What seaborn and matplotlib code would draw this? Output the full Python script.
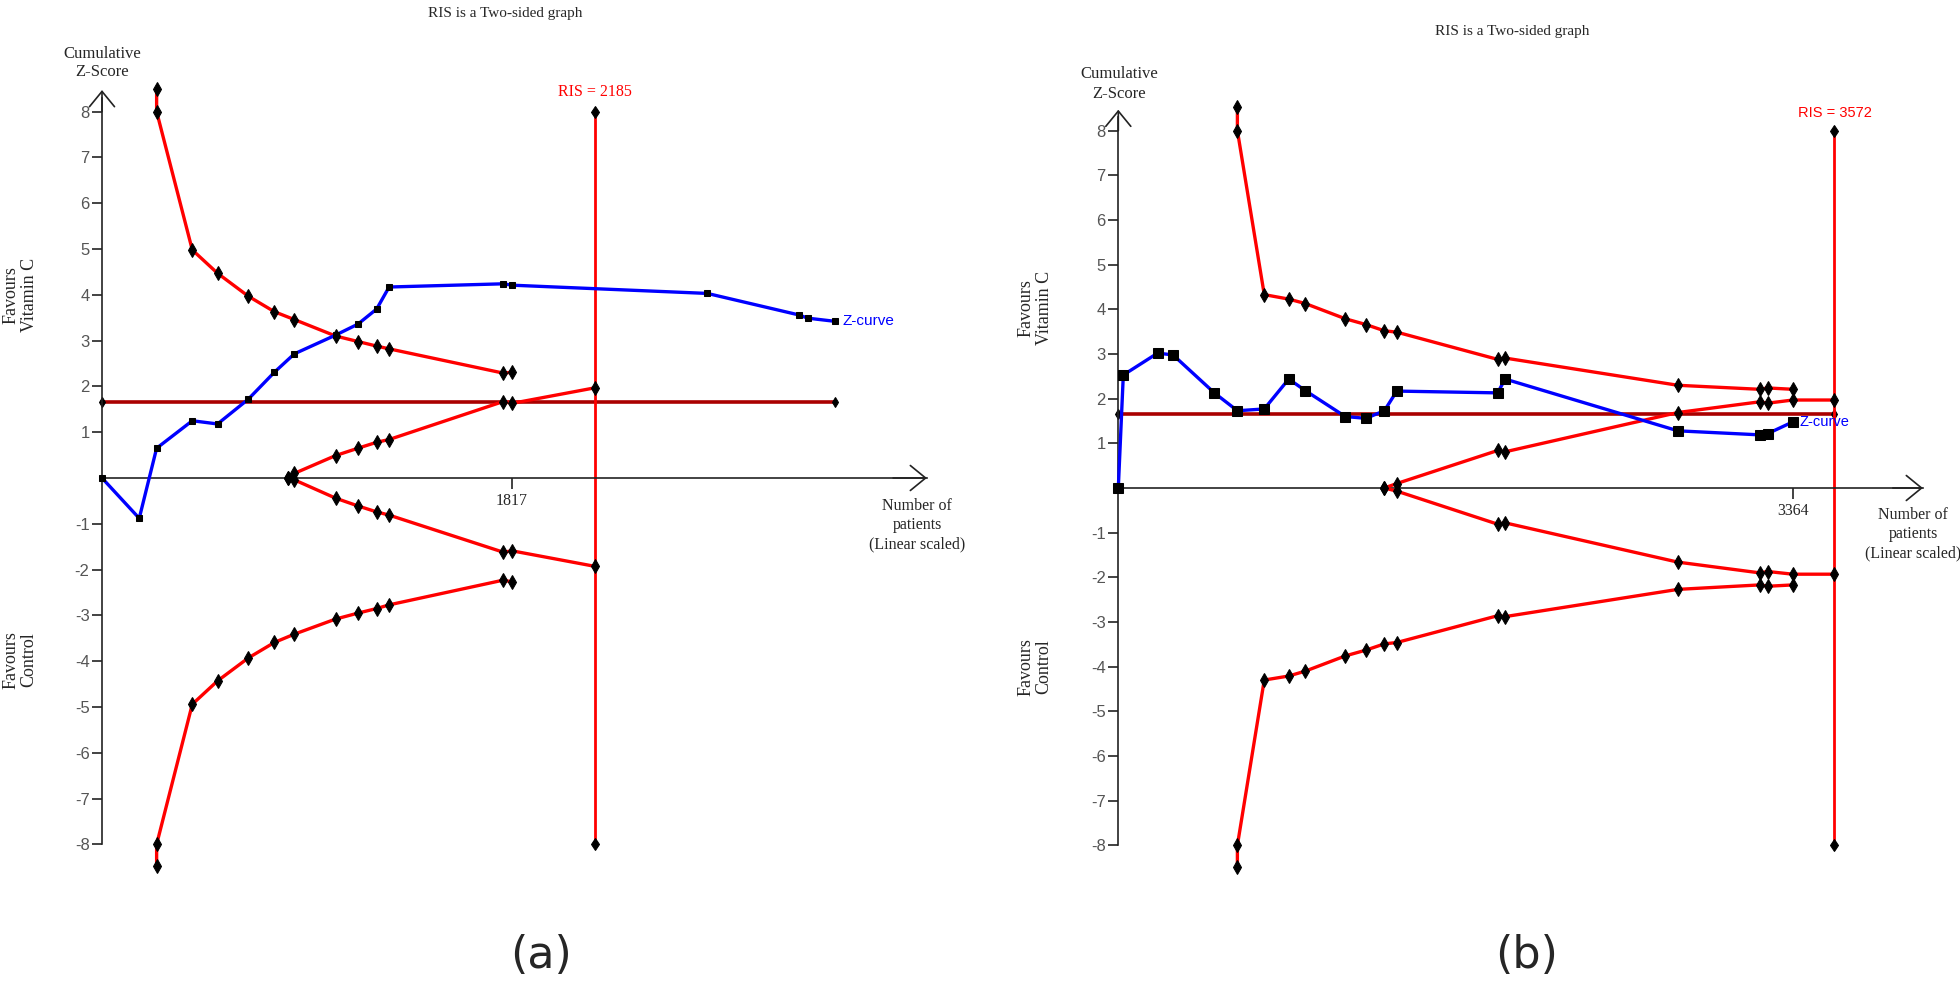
"""
Trial sequential analysis plots (a) and (b): cumulative Z-curve vs boundaries
"""

import seaborn as sns
import matplotlib.pyplot as plt

# ---- panel (a) ----
a_z_n = [0, 165, 242, 400, 512, 648, 764, 852, 1035, 1134, 1217, 1272, 1778, 1817, 2682, 3088, 3127, 3249]
a_z = [0, -0.88, 0.65, 1.25, 1.18, 1.72, 2.31, 2.71, 3.12, 3.36, 3.69, 4.17, 4.24, 4.21, 4.03, 3.56, 3.49, 3.42]
a_bound_n = [242, 242, 400, 512, 648, 764, 852, 1035, 1134, 1217, 1272, 1778, 1817]
a_upper = [8.5, 8.0, 4.98, 4.47, 3.97, 3.63, 3.46, 3.10, 2.98, 2.88, 2.82, 2.29, 2.31]
a_lower = [-8.47, -8.0, -4.94, -4.43, -3.93, -3.59, -3.41, -3.08, -2.95, -2.85, -2.77, -2.23, -2.27]
a_futil_n = [826, 852, 1035, 1134, 1217, 1272, 1778, 1817, 2185]
a_futil_up = [0, 0.10, 0.49, 0.65, 0.78, 0.84, 1.67, 1.63, 1.97]
a_futil_lo = [0, -0.04, -0.44, -0.61, -0.74, -0.81, -1.62, -1.59, -1.93]
a_ris = 2185
a_total = 1817
a_conv_end = 3249

# ---- panel (b) ----
b_z_n = [0, 25, 196, 273, 479, 594, 728, 850, 933, 1132, 1235, 1327, 1389, 1892, 1929, 2791, 3199, 3240, 3364]
b_z = [0, 2.53, 3.02, 2.98, 2.13, 1.73, 1.77, 2.44, 2.18, 1.60, 1.56, 1.73, 2.17, 2.13, 2.44, 1.28, 1.19, 1.22, 1.48]
b_bound_n = [594, 594, 728, 850, 933, 1132, 1235, 1327, 1389, 1892, 1929, 2791, 3199, 3240, 3364]
b_upper = [8.52, 8.0, 4.33, 4.23, 4.13, 3.79, 3.66, 3.52, 3.49, 2.88, 2.91, 2.30, 2.21, 2.24, 2.21]
b_lower = [-8.48, -8.0, -4.30, -4.21, -4.10, -3.76, -3.63, -3.49, -3.46, -2.86, -2.88, -2.27, -2.17, -2.20, -2.17]
b_futil_n = [1327, 1389, 1892, 1929, 2791, 3199, 3240, 3364, 3572]
b_futil_up = [0, 0.10, 0.84, 0.81, 1.69, 1.93, 1.90, 1.97, 1.97]
b_futil_lo = [0, -0.07, -0.81, -0.78, -1.66, -1.90, -1.87, -1.93, -1.93]
b_ris = 3572
b_total = 3364
b_conv_end = 3572

conv_z = 1.65
ris_z = [8, -8]
y_ticks = [-8, -7, -6, -5, -4, -3, -2, -1, 1, 2, 3, 4, 5, 6, 7, 8]

W, H = 1960, 983
SERIF = ["Liberation Serif", "DejaVu Serif"]
SANS = ["Liberation Sans", "DejaVu Sans"]

sns.set_style("white")
plt.rcParams["font.family"] = SANS
plt.rcParams["axes.unicode_minus"] = False

fig = plt.figure(figsize=(W / 100, H / 100), dpi=100)


def ftext(x, y, s, **kw):
    fig.text(x / W, 1 - y / H, s, **kw)


def make_axes(box, origin, px_n, px_z):
    # box = (left, top, right, bottom) in pixels, origin = pixel of (0, 0)
    l, t, r, b = box
    ax = fig.add_axes([l / W, 1 - b / H, (r - l) / W, (b - t) / H])
    ax.set_xlim((l - origin[0]) / px_n, (r - origin[0]) / px_n)
    ax.set_ylim((origin[1] - b) / px_z, (origin[1] - t) / px_z)
    return ax


def seg(ax, x, y, color, lw, marker, ms, z=2):
    sns.lineplot(x=x, y=y, ax=ax, estimator=None, sort=False, color=color, lw=lw,
                 marker=marker, markersize=ms, markerfacecolor="k", markeredgecolor="k",
                 zorder=z, legend=False)


def draw_panel(ax, z_n, z, bound_n, upper, lower, futil_n, futil_up, futil_lo,
               ris, total, conv_end, arrow_n, sq, ris_font, ris_size, zc_size):
    ax.set_facecolor("none")
    for s in ["top", "right"]:
        ax.spines[s].set_visible(False)
    ax.spines["left"].set_position(("data", 0))
    ax.spines["bottom"].set_position(("data", 0))
    ax.spines["left"].set_bounds(-8, 8.3)
    ax.spines["bottom"].set_bounds(0, arrow_n)
    for s in ["left", "bottom"]:
        ax.spines[s].set_color("#222222")
        ax.spines[s].set_linewidth(1.2)
    arr = dict(arrowstyle="->,head_length=0.55,head_width=0.45", color="#222222", lw=1.2,
               shrinkA=0, shrinkB=0, mutation_scale=20)
    ax.annotate("", xy=(0, 8.47), xytext=(0, 8.0), arrowprops=arr)
    ax.annotate("", xy=(arrow_n, 0), xytext=(arrow_n - 150, 0), arrowprops=arr)

    ax.set_yticks(y_ticks)
    ax.set_yticklabels([str(v) for v in y_ticks])
    ax.tick_params(axis="y", direction="out", length=7, width=1.2, color="#222222",
                   labelcolor="#555555", labelsize=12, pad=2, left=True)
    ax.set_xticks([total])
    ax.set_xticklabels([str(total)], family=SERIF, fontsize=11.5)
    ax.tick_params(axis="x", direction="out", length=8, width=1.2, color="#222222",
                   pad=3, bottom=True)
    ax.set_xlabel("")
    ax.set_ylabel("")

    # conventional boundary and RIS
    seg(ax, [0, conv_end], [conv_z, conv_z], "#aa0000", 2.6, "d", 5, z=2)
    seg(ax, [ris, ris], ris_z, "#ff0000", 2.0, "d", 6, z=2)
    # monitoring and futility boundaries
    seg(ax, bound_n, upper, "#ff0000", 2.4, "d", 7, z=3)
    seg(ax, bound_n, lower, "#ff0000", 2.4, "d", 7, z=3)
    seg(ax, futil_n, futil_up, "#ff0000", 2.4, "d", 7, z=3)
    seg(ax, futil_n, futil_lo, "#ff0000", 2.4, "d", 7, z=3)
    # Z-curve
    seg(ax, z_n, z, "#0000ff", 2.4, "s", sq, z=4)

    ax.annotate("Z-curve", xy=(z_n[-1], z[-1]), xytext=(5, 0), textcoords="offset points",
                color="#0000ff", fontsize=zc_size, va="center", ha="left")
    ax.annotate(f"RIS = {ris}", xy=(ris, ris_z[0]), xytext=(0, 8), textcoords="offset points",
                color="#ff0000", fontsize=ris_size, va="bottom", ha="center", family=ris_font)


ax_a = make_axes((40, 40, 975, 900), (102, 478), 0.2257, 45.8)
draw_panel(ax_a, a_z_n, a_z, a_bound_n, a_upper, a_lower, a_futil_n, a_futil_up, a_futil_lo,
           a_ris, a_total, a_conv_end, 3655, 5, SERIF, 11.5, 11)

ax_b = make_axes((1000, 40, 1958, 900), (1118.3, 488), 0.2005, 44.66)
draw_panel(ax_b, b_z_n, b_z, b_bound_n, b_upper, b_lower, b_futil_n, b_futil_up, b_futil_lo,
           b_ris, b_total, b_conv_end, 4013, 7, SANS, 10.5, 10.5)

# titles and axis labels
ftext(505, 13, "RIS is a Two-sided graph", family=SERIF, fontsize=11, ha="center", va="center")
ftext(1512, 32, "RIS is a Two-sided graph", family=SERIF, fontsize=11, ha="center", va="center")
ftext(102, 63, "Cumulative\nZ-Score", family=SERIF, fontsize=12, ha="center", va="center",
      linespacing=1.25)
ftext(1119, 84, "Cumulative\nZ-Score", family=SERIF, fontsize=12, ha="center", va="center",
      linespacing=1.25)
ftext(917, 525, "Number of\npatients\n(Linear scaled)", family=SERIF, fontsize=11.5,
      ha="center", va="center", linespacing=1.25)
ftext(1913, 534, "Number of\npatients\n(Linear scaled)", family=SERIF, fontsize=11.5,
      ha="center", va="center", linespacing=1.25)
for x, y1, y2 in [(20, 295, 660), (1035, 308, 667)]:
    ftext(x, y1, "Favours\nVitamin C", family=SERIF, fontsize=13, rotation=90,
          ha="center", va="center", linespacing=1.1)
    ftext(x, y2, "Favours\nControl", family=SERIF, fontsize=13, rotation=90,
          ha="center", va="center", linespacing=1.1)

ftext(541, 956, "(a)", family="DejaVu Sans", fontsize=32, ha="center", va="center")
ftext(1527, 956, "(b)", family="DejaVu Sans", fontsize=32, ha="center", va="center")

fig.savefig("out.png", dpi=100, facecolor="white")
